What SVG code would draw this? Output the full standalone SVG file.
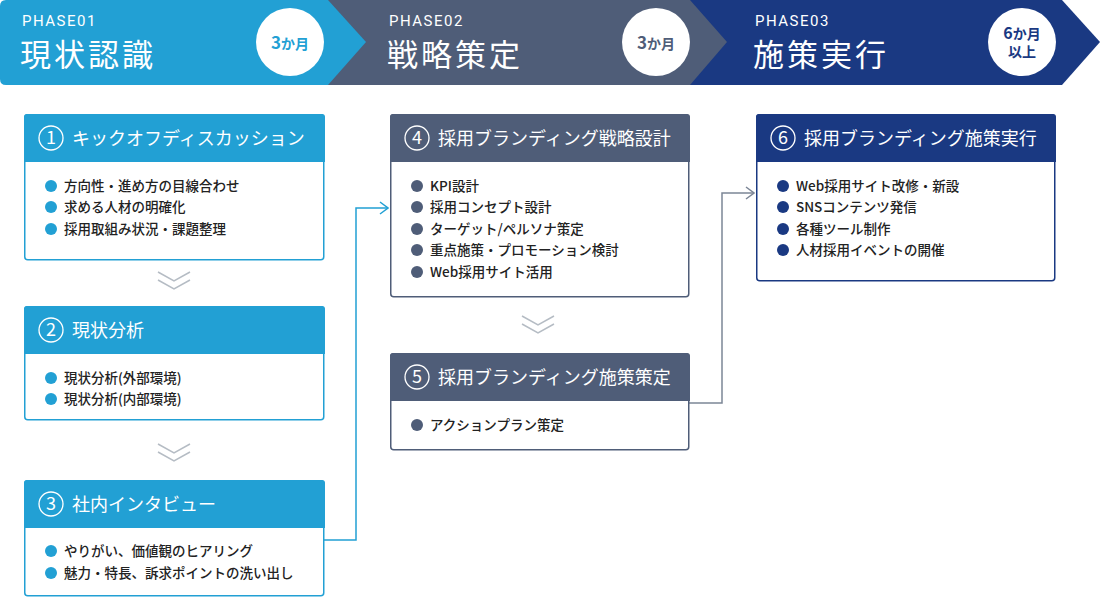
<svg xmlns="http://www.w3.org/2000/svg" width="1100" height="598" viewBox="0 0 1100 598">
<style>
text{font-family:"Noto Sans CJK JP","Noto Sans",sans-serif}
.ph{fill:#fff;font-size:15px;letter-spacing:1.5px;font-family:Roboto,"Noto Sans",sans-serif}
.pt{fill:#fff;font-size:31px;letter-spacing:3px}
.hd{fill:#fff;font-size:18px}
.it{fill:#222;font-size:13.5px;font-weight:500}
.c1{fill:#22a0d4}.c2{fill:#4f5d78}.c3{fill:#1a3982}
.conn{fill:none;stroke-width:1.5}
.chev{fill:none;stroke:#b5bcc4;stroke-width:1.5}
</style>
<defs>
<marker id="a1" markerWidth="10" markerHeight="14" refX="9" refY="7" orient="auto" markerUnits="userSpaceOnUse"><path d="M1,1 L9,7 L1,13" fill="none" stroke="#22a0d4" stroke-width="1.5"/></marker>
<marker id="a2" markerWidth="10" markerHeight="14" refX="9" refY="7" orient="auto" markerUnits="userSpaceOnUse"><path d="M1,1 L9,7 L1,13" fill="none" stroke="#7c8696" stroke-width="1.5"/></marker>
</defs>
<g id="phase3"><path class="c3" d="M688,0 H1062 L1100,42 L1062,85 H688 Z"/><text class="ph" x="755" y="26">PHASE03</text><text class="pt" x="753" y="66">施策実行</text><circle cx="1022" cy="42" r="34" fill="#fff"/><text x="1022" y="39" text-anchor="middle" font-size="16" font-weight="700" fill="#1a3982">6<tspan font-size="14">か月</tspan></text><text x="1022" y="57" text-anchor="middle" font-size="14" font-weight="700" fill="#1a3982">以上</text></g>
<g id="phase2"><path class="c2" d="M328,0 H690 L727,42 L690,85 H328 Z"/><text class="ph" x="389" y="26">PHASE02</text><text class="pt" x="387" y="66">戦略策定</text><circle cx="656" cy="42" r="34" fill="#fff"/><text x="656" y="49" text-anchor="middle" font-size="17" font-weight="700" fill="#4f5d78">3<tspan font-size="14">か月</tspan></text></g>
<g id="phase1"><path class="c1" d="M6,0 H328 L366,42 L328,85 H6 Q0,85 0,79 V6 Q0,0 6,0 Z"/><text class="ph" x="22" y="26">PHASE01</text><text class="pt" x="20" y="66">現状認識</text><circle cx="290" cy="42" r="34" fill="#fff"/><text x="290" y="49" text-anchor="middle" font-size="17" font-weight="700" fill="#22a0d4">3<tspan font-size="14">か月</tspan></text></g>

<g id="connectors">
<polyline class="conn" stroke="#22a0d4" points="324,540 356,540 356,208 388,208" marker-end="url(#a1)"/>
<polyline class="conn" stroke="#7c8696" points="689,403 722,403 722,193 754,193" marker-end="url(#a2)"/>
<path class="chev" d="M158,272 L174,281 L190,272 M158,280 L174,289 L190,280"/>
<path class="chev" d="M158,444 L174,453 L190,444 M158,452 L174,461 L190,452"/>
<path class="chev" d="M522,316 L538,325 L554,316 M522,324 L538,333 L554,324"/>
</g>

<g id="box1"><rect x="24.75" y="114.75" width="299" height="145" rx="3" fill="#fff" stroke="#22a0d4" stroke-width="1.5"/><path class="c1" d="M27,114 H322 Q325,114 325,117 V162 H24 V117 Q24,114 27,114Z"/><circle cx="51" cy="138" r="12" fill="none" stroke="#fff" stroke-width="1.3"/><text class="hd" x="51" y="144" text-anchor="middle" font-size="17">1</text><text class="hd" x="72" y="145">キックオフディスカッション</text>
<circle class="c1" cx="51" cy="186" r="6"/><text class="it" x="64" y="191">方向性・進め方の目線合わせ</text>
<circle class="c1" cx="51" cy="207" r="6"/><text class="it" x="64" y="212">求める人材の明確化</text>
<circle class="c1" cx="51" cy="229" r="6"/><text class="it" x="64" y="234">採用取組み状況・課題整理</text></g>

<g id="box2"><rect x="24.75" y="306.75" width="299" height="113" rx="3" fill="#fff" stroke="#22a0d4" stroke-width="1.5"/><path class="c1" d="M27,306 H322 Q325,306 325,309 V354 H24 V309 Q24,306 27,306Z"/><circle cx="51" cy="330" r="12" fill="none" stroke="#fff" stroke-width="1.3"/><text class="hd" x="51" y="336" text-anchor="middle" font-size="17">2</text><text class="hd" x="72" y="337">現状分析</text>
<circle class="c1" cx="51" cy="378" r="6"/><text class="it" x="64" y="383">現状分析(外部環境)</text>
<circle class="c1" cx="51" cy="399" r="6"/><text class="it" x="64" y="404">現状分析(内部環境)</text></g>

<g id="box3"><rect x="24.75" y="480.75" width="299" height="115" rx="3" fill="#fff" stroke="#22a0d4" stroke-width="1.5"/><path class="c1" d="M27,480 H322 Q325,480 325,483 V528 H24 V483 Q24,480 27,480Z"/><circle cx="51" cy="504" r="12" fill="none" stroke="#fff" stroke-width="1.3"/><text class="hd" x="51" y="510" text-anchor="middle" font-size="17">3</text><text class="hd" x="72" y="511">社内インタビュー</text>
<circle class="c1" cx="51" cy="551" r="6"/><text class="it" x="64" y="556">やりがい、価値観のヒアリング</text>
<circle class="c1" cx="51" cy="573" r="6"/><text class="it" x="64" y="578">魅力・特長、訴求ポイントの洗い出し</text></g>

<g id="box4"><rect x="390.75" y="114.75" width="298" height="182" rx="3" fill="#fff" stroke="#4f5d78" stroke-width="1.5"/><path class="c2" d="M393,114 H687 Q690,114 690,117 V162 H390 V117 Q390,114 393,114Z"/><circle cx="417" cy="138" r="12" fill="none" stroke="#fff" stroke-width="1.3"/><text class="hd" x="417" y="144" text-anchor="middle" font-size="17">4</text><text class="hd" x="438" y="145">採用ブランディング戦略設計</text>
<circle class="c2" cx="417" cy="186" r="6"/><text class="it" x="430" y="191">KPI設計</text>
<circle class="c2" cx="417" cy="207" r="6"/><text class="it" x="430" y="212">採用コンセプト設計</text>
<circle class="c2" cx="417" cy="229" r="6"/><text class="it" x="430" y="234">ターゲット/ペルソナ策定</text>
<circle class="c2" cx="417" cy="250" r="6"/><text class="it" x="430" y="255">重点施策・プロモーション検討</text>
<circle class="c2" cx="417" cy="272" r="6"/><text class="it" x="430" y="277">Web採用サイト活用</text></g>

<g id="box5"><rect x="390.75" y="353.75" width="298" height="96" rx="3" fill="#fff" stroke="#4f5d78" stroke-width="1.5"/><path class="c2" d="M393,353 H687 Q690,353 690,356 V401 H390 V356 Q390,353 393,353Z"/><circle cx="417" cy="377" r="12" fill="none" stroke="#fff" stroke-width="1.3"/><text class="hd" x="417" y="383" text-anchor="middle" font-size="17">5</text><text class="hd" x="438" y="384">採用ブランディング施策策定</text>
<circle class="c2" cx="417" cy="425" r="6"/><text class="it" x="430" y="430">アクションプラン策定</text></g>

<g id="box6"><rect x="756.75" y="114.75" width="298" height="166" rx="3" fill="#fff" stroke="#1a3982" stroke-width="1.5"/><path class="c3" d="M759,114 H1053 Q1056,114 1056,117 V162 H756 V117 Q756,114 759,114Z"/><circle cx="783" cy="138" r="12" fill="none" stroke="#fff" stroke-width="1.3"/><text class="hd" x="783" y="144" text-anchor="middle" font-size="17">6</text><text class="hd" x="804" y="145">採用ブランディング施策実行</text>
<circle class="c3" cx="783" cy="186" r="6"/><text class="it" x="796" y="191">Web採用サイト改修・新設</text>
<circle class="c3" cx="783" cy="207" r="6"/><text class="it" x="796" y="212">SNSコンテンツ発信</text>
<circle class="c3" cx="783" cy="229" r="6"/><text class="it" x="796" y="234">各種ツール制作</text>
<circle class="c3" cx="783" cy="250" r="6"/><text class="it" x="796" y="255">人材採用イベントの開催</text></g>
</svg>
